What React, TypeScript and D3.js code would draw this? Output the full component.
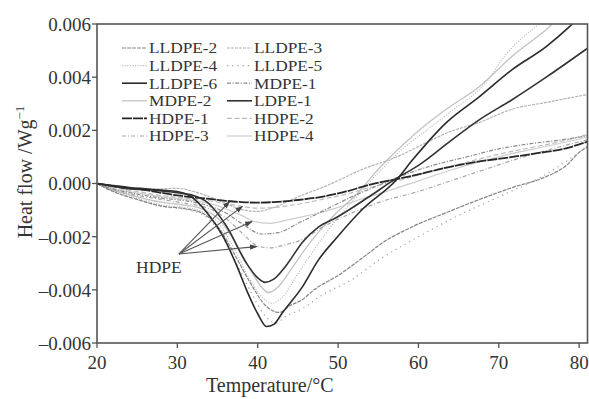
import React from 'react';
import * as d3 from 'd3';

// heat flow values are in units of 0.001 W/g, temperature in °C
const xTicks = [20, 30, 40, 50, 60, 70, 80];
const yTicks = [-6, -4, -2, 0, 2, 4, 6];

const lldpe2 = [[20,0],[22,-0.3],[25,-0.6],[28,-0.85],[31,-0.95],[33,-1.1],[35,-1.6],[37,-2.6],[39,-3.7],[41,-4.6],[42.7,-4.85],[44,-4.6],[45.6,-4.36],[47,-4.0],[49.8,-3.5],[53.9,-2.6],[55.2,-2.3],[59.3,-1.62],[63.5,-1.09],[67.6,-0.6],[71.7,-0.15],[75.9,0.26],[78.5,0.7],[80,1.17],[81.1,1.39]];
const lldpe3 = [[20,0],[22,-0.12],[24,-0.2],[26,-0.22],[28,-0.2],[30,-0.18],[32,-0.3],[34,-0.5],[36,-0.75],[38,-0.98],[40,-1.05],[42,-0.9],[44.8,-0.53],[48.9,-0.04],[53,0.53],[57.3,1.0],[61.4,1.6],[63.5,1.9],[67.6,2.3],[71.7,2.8],[75.9,3.05],[81.1,3.35]];
const lldpe4 = [[20,0],[22,-0.3],[25,-0.55],[28,-0.8],[31,-0.9],[33,-1.05],[35,-1.45],[37,-2.4],[39,-3.6],[41,-4.4],[41.8,-4.5],[43,-4.3],[45,-3.4],[47,-2.5],[49.8,-1.35],[52,-0.6],[55,0.4],[58,1.3],[61,2.0],[64,2.7],[68.4,3.8],[71,4.9],[73,5.5],[75.5,6.1]];
const lldpe5 = [[20,0],[22,-0.3],[25,-0.6],[28,-0.85],[31,-0.98],[33,-1.15],[35,-1.7],[37,-2.8],[39,-4.0],[41,-5.0],[42.2,-5.25],[43.5,-5.0],[45.6,-4.7],[48,-4.2],[51.8,-3.6],[55,-2.9],[60,-2.0],[65,-1.2],[70,-0.5],[75,0.2],[81.1,1.4]];
const lldpe6 = [[20,0],[22,-0.08],[24,-0.15],[26,-0.2],[28,-0.25],[30,-0.3],[31.5,-0.45],[33.7,-1.1],[35.7,-2.0],[37.4,-3.1],[38.6,-4.0],[40,-4.9],[41.1,-5.38],[42,-5.3],[43.1,-4.85],[45.6,-3.87],[47.5,-2.9],[49.8,-2.05],[53,-0.98],[57.3,0.15],[59.3,0.9],[63.5,2.3],[67.6,3.27],[71.7,4.29],[75.9,5.15],[78.8,5.9],[79.5,6.1]];
const mdpe1 = [[20,0],[22,-0.2],[25,-0.4],[28,-0.55],[31,-0.65],[34,-0.85],[36,-1.1],[38,-1.5],[40.5,-1.9],[42.5,-1.85],[45,-1.5],[48,-1.05],[51,-0.6],[54,-0.2],[58,0.3],[62,0.7],[66,1.0],[70,1.3],[74,1.5],[78,1.65],[81.1,1.8]];
const mdpe2 = [[20,0],[22,-0.25],[25,-0.5],[28,-0.7],[31,-0.82],[33,-0.95],[35,-1.3],[37,-2.1],[39,-3.2],[40.5,-3.9],[41.3,-4.1],[42.5,-3.9],[44,-3.3],[45.6,-2.6],[47.5,-1.85],[49.8,-1.1],[52,-0.5],[55.2,0.6],[59.3,1.8],[63.5,2.8],[67.6,3.65],[71.7,4.8],[76.3,5.9],[77,6.1]];
const ldpe1 = [[20,0],[22,-0.1],[24,-0.2],[26,-0.22],[28,-0.28],[30,-0.35],[32,-0.45],[33.7,-0.7],[36.1,-1.6],[38.6,-3.0],[40,-3.55],[40.9,-3.72],[42,-3.6],[43.5,-3.1],[45.6,-2.2],[47.5,-1.65],[49.8,-1.28],[53.9,-0.49],[57.3,0.2],[60.1,0.7],[64,1.6],[67.6,2.4],[71.7,3.16],[75.9,4.0],[81.1,5.1]];
const hdpe1 = [[20,0],[22,-0.1],[24,-0.18],[26,-0.25],[28,-0.35],[30,-0.45],[32,-0.52],[34,-0.58],[36,-0.65],[38,-0.7],[40,-0.72],[42,-0.7],[45,-0.62],[48,-0.5],[51,-0.3],[54,-0.04],[57,0.15],[60,0.34],[63.5,0.6],[67,0.8],[71.7,1.0],[75,1.15],[78,1.3],[81.1,1.58]];
const hdpe2 = [[20,0],[22,-0.15],[25,-0.3],[28,-0.45],[31,-0.55],[34,-0.65],[36,-0.75],[38,-0.86],[40,-0.93],[42,-0.9],[45,-0.78],[48,-0.6],[51,-0.4],[54,-0.15],[58,0.15],[62,0.5],[66,0.8],[70,1.1],[74,1.35],[78,1.6],[81.1,1.85]];
const hdpe3 = [[20,0],[22,-0.25],[25,-0.45],[28,-0.6],[31,-0.75],[34,-0.95],[36,-1.3],[38,-1.85],[40,-2.35],[41.5,-2.42],[43.5,-2.3],[45.6,-2.1],[48,-1.65],[51.8,-1.1],[55.2,-0.7],[60,-0.3],[64,0.1],[68,0.5],[72,0.9],[76,1.25],[81.1,1.65]];
const hdpe4 = [[20,0],[22,-0.2],[25,-0.35],[28,-0.5],[31,-0.6],[34,-0.75],[36,-0.95],[38,-1.2],[39.5,-1.42],[41.5,-1.5],[44,-1.35],[47.7,-1.1],[50,-0.9],[52.7,-0.6],[56,-0.3],[60,0.1],[64,0.5],[68,0.85],[72,1.15],[76,1.4],[81.1,1.75]];

// legend rows, left column then right column
const legendLeft = ['LLDPE-2', 'LLDPE-4', 'LLDPE-6', 'MDPE-2', 'HDPE-1', 'HDPE-3'];
const legendRight = ['LLDPE-3', 'LLDPE-5', 'MDPE-1', 'LDPE-1', 'HDPE-2', 'HDPE-4'];

// HDPE annotation arrows: start and end, in data units
const arrowStart = [30.2, -2.65];
const arrowEnds = [[36.5, -0.68], [38.1, -0.86], [39.3, -1.43], [39.9, -2.37]];

const seriesData = {
  'LLDPE-2': lldpe2, 'LLDPE-3': lldpe3, 'LLDPE-4': lldpe4, 'LLDPE-5': lldpe5,
  'LLDPE-6': lldpe6, 'MDPE-1': mdpe1, 'MDPE-2': mdpe2, 'LDPE-1': ldpe1,
  'HDPE-1': hdpe1, 'HDPE-2': hdpe2, 'HDPE-3': hdpe3, 'HDPE-4': hdpe4,
};

const styles = {
  'LLDPE-2': { stroke: '#858585', width: 1.2, dash: '4,1' },
  'LLDPE-3': { stroke: '#b4b4b4', width: 1.2, dash: '3,1' },
  'LLDPE-4': { stroke: '#bdbdbd', width: 1.1, dash: '1.2,1.4' },
  'LLDPE-5': { stroke: '#a0a0a0', width: 1.2, dash: '1.2,4' },
  'LLDPE-6': { stroke: '#2b2b2b', width: 1.6, dash: null },
  'MDPE-1': { stroke: '#8a8a8a', width: 1.2, dash: '4,1.5,1.2,1.5' },
  'MDPE-2': { stroke: '#c2c2c2', width: 1.3, dash: null },
  'LDPE-1': { stroke: '#333333', width: 1.6, dash: null },
  'HDPE-1': { stroke: '#262626', width: 1.8, dash: '10,1' },
  'HDPE-2': { stroke: '#bcbcbc', width: 1.2, dash: '5,2.5' },
  'HDPE-3': { stroke: '#a6a6a6', width: 1.2, dash: '4,2,1,2' },
  'HDPE-4': { stroke: '#cdcdcd', width: 1.2, dash: null },
};

// light lines first, dark on top
const drawOrder = ['HDPE-4', 'MDPE-2', 'LLDPE-4', 'LLDPE-3', 'HDPE-2', 'HDPE-3', 'LLDPE-5',
  'MDPE-1', 'LLDPE-2', 'HDPE-1', 'LDPE-1', 'LLDPE-6'];

const width = 589;
const height = 399;
const margin = { top: 24, right: 1, bottom: 56, left: 97 };
const font = '"Liberation Serif", "Times New Roman", serif';

export default function App() {
  document.body.style.margin = '0';

  const x = d3.scaleLinear().domain([20, 81.1]).range([margin.left, width - margin.right]);
  const y = d3.scaleLinear().domain([-6, 6]).range([height - margin.bottom, margin.top]);

  const line = d3.line()
    .x(d => x(d[0]))
    .y(d => y(d[1]))
    .curve(d3.curveMonotoneX);

  const x0 = margin.left;
  const x1 = width - margin.right - 0.5;
  const y0 = margin.top;
  const y1 = height - margin.bottom;

  const fmt = v => (v < 0 ? '\u2013' : '') + Math.abs(v / 1000).toFixed(3);

  const legendRowY = i => 48 + i * 17.6;

  // legend columns: sample line start, text start
  const legendCols = [
    { names: legendLeft, lx: 122, tx: 149 },
    { names: legendRight, lx: 227, tx: 254 },
  ];

  return (
    <svg width={width} height={height} style={{ display: 'block', background: 'white', fontFamily: font }}>
      <defs>
        <clipPath id="plot-clip">
          <rect x={x0} y={y0} width={x1 - x0} height={y1 - y0} />
        </clipPath>
        <marker id="arrow" viewBox="0 0 10 10" refX="9" refY="5" markerWidth="7" markerHeight="7" orient="auto">
          <path d="M0,1.5 L10,5 L0,8.5 z" fill="#444" />
        </marker>
      </defs>

      {/* curves */}
      <g clipPath="url(#plot-clip)" fill="none">
        {drawOrder.map(name => (
          <path key={name}
            d={line(seriesData[name])}
            stroke={styles[name].stroke}
            strokeWidth={styles[name].width}
            strokeDasharray={styles[name].dash || undefined} />
        ))}
      </g>

      {/* frame */}
      <rect x={x0} y={y0} width={x1 - x0} height={y1 - y0} fill="none" stroke="#555" strokeWidth={1.6} />

      {/* y axis */}
      {yTicks.map(t => (
        <g key={'y' + t}>
          <line x1={x0 - 5} x2={x0} y1={y(t)} y2={y(t)} stroke="#555" strokeWidth={1.3} />
          <text x={x0 - 6} y={y(t)} dy="0.36em" textAnchor="end" fontSize={19} fill="#333">{fmt(t)}</text>
        </g>
      ))}

      {/* x axis */}
      {xTicks.map(t => (
        <g key={'x' + t}>
          <line x1={x(t)} x2={x(t)} y1={y1} y2={y1 + 5} stroke="#555" strokeWidth={1.3} />
          <text x={x(t)} y={y1 + 26} textAnchor="middle" fontSize={19} fill="#333">{t}</text>
        </g>
      ))}

      <text x={x(41.5)} y={392} textAnchor="middle" fontSize={20} fill="#333">Temperature/°C</text>
      <text transform={`translate(32, 172) rotate(-90)`} textAnchor="middle" fontSize={20} fill="#333">
        Heat flow /Wg<tspan fontSize={13} dy={-8}>−1</tspan>
      </text>

      {/* legend */}
      {legendCols.map(col => col.names.map((name, i) => (
        <g key={name}>
          <line x1={col.lx} x2={col.lx + 25} y1={legendRowY(i)} y2={legendRowY(i)}
            stroke={styles[name].stroke} strokeWidth={styles[name].width}
            strokeDasharray={styles[name].dash || undefined} />
          <text transform={`translate(${col.tx}, ${legendRowY(i)}) scale(1.14, 1)`} dy="0.35em"
            fontSize={15.2} fill="#333">{name}</text>
        </g>
      )))}

      {/* HDPE annotation */}
      {arrowEnds.map((e, i) => (
        <line key={'a' + i}
          x1={x(arrowStart[0])} y1={y(arrowStart[1])}
          x2={x(e[0])} y2={y(e[1])}
          stroke="#555" strokeWidth={1.1} markerEnd="url(#arrow)" />
      ))}
      <text x={136} y={273} fontSize={17.5} fill="#333">HDPE</text>
    </svg>
  );
}
